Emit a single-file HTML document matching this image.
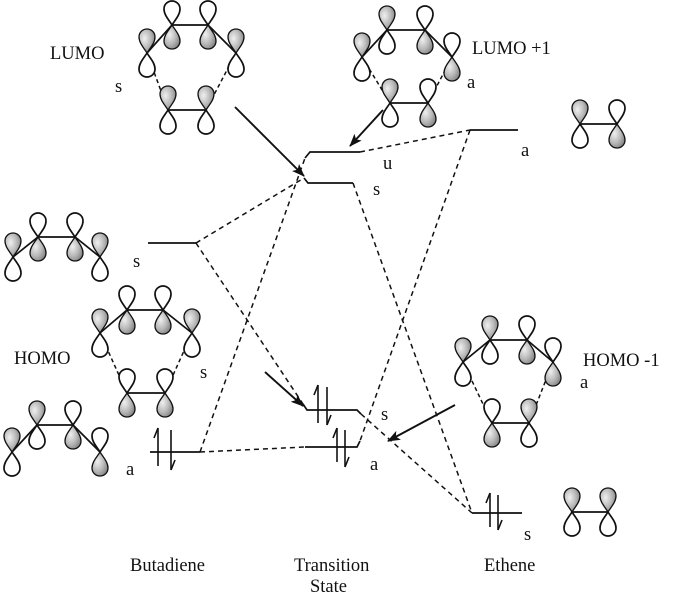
<!DOCTYPE html>
<html><head><meta charset="utf-8"><style>
html,body{margin:0;padding:0;background:#fff;}
svg{display:block;}
text{font-family:"Liberation Serif",serif;fill:#111;}
</style></head><body>
<svg width="681" height="599" viewBox="0 0 681 599" xmlns="http://www.w3.org/2000/svg">
<defs>
<radialGradient id="g" cx="0.35" cy="0.4" r="0.8">
<stop offset="0" stop-color="#f0f0f0"/><stop offset="0.5" stop-color="#b8b8b8"/><stop offset="1" stop-color="#707070"/>
</radialGradient>
<path id="us" d="M0,0 C-3,-5 -8,-10 -8,-16 C-8,-21 -4,-24 0,-24 C4,-24 8,-21 8,-16 C8,-10 3,-5 0,0Z" fill="url(#g)" stroke="#111" stroke-width="1.3"/>
<path id="uh" d="M0,0 C-3,-5 -8,-10 -8,-16 C-8,-21 -4,-24 0,-24 C4,-24 8,-21 8,-16 C8,-10 3,-5 0,0Z" fill="#fff" stroke="#111" stroke-width="1.7"/>
<path id="ds" d="M0,0 C-3,5 -8,10 -8,16 C-8,21 -4,24 0,24 C4,24 8,21 8,16 C8,10 3,5 0,0Z" fill="url(#g)" stroke="#111" stroke-width="1.3"/>
<path id="dh" d="M0,0 C-3,5 -8,10 -8,16 C-8,21 -4,24 0,24 C4,24 8,21 8,16 C8,10 3,5 0,0Z" fill="#fff" stroke="#111" stroke-width="1.7"/>
<marker id="ar" markerWidth="13" markerHeight="10" refX="12" refY="5" orient="auto" markerUnits="userSpaceOnUse">
<path d="M0,0 L13,5 L0,10 L3,5Z" fill="#111"/></marker>
</defs>

<g stroke="#111" stroke-width="1.7" fill="none">
<polyline points="147,53 172,25 208,25 236,53"/><line x1="168" y1="110" x2="206" y2="110"/>
<polyline points="362,57 387,30 425,30 452,57"/><line x1="390" y1="103" x2="428" y2="103"/>
<line x1="580" y1="124" x2="617" y2="124"/>
<polyline points="13,257 38,237 75,237 100,257"/>
<polyline points="100,333 127,310 163,310 192,333"/><line x1="127" y1="393" x2="165" y2="393"/>
<polyline points="12,452 37,425 73,425 100,452"/>
<polyline points="463,362 490,340 527,340 553,362"/><line x1="492" y1="423" x2="529" y2="423"/>
<line x1="572" y1="512" x2="608" y2="512"/>
</g>
<g stroke="#111" stroke-width="1.5" stroke-dasharray="4,3" fill="none">
<line x1="147" y1="53" x2="168" y2="110"/><line x1="236" y1="53" x2="206" y2="110"/>
<line x1="362" y1="57" x2="390" y2="103"/><line x1="452" y1="57" x2="428" y2="103"/>
<line x1="100" y1="333" x2="127" y2="393"/><line x1="192" y1="333" x2="165" y2="393"/>
<line x1="463" y1="362" x2="492" y2="423"/><line x1="553" y1="362" x2="529" y2="423"/>
</g>

<use href="#us" x="147" y="53"/><use href="#dh" x="147" y="53"/>
<use href="#uh" x="172" y="25"/><use href="#ds" x="172" y="25"/>
<use href="#uh" x="208" y="25"/><use href="#ds" x="208" y="25"/>
<use href="#us" x="236" y="53"/><use href="#dh" x="236" y="53"/>
<use href="#us" x="168" y="110"/><use href="#dh" x="168" y="110"/>
<use href="#us" x="206" y="110"/><use href="#dh" x="206" y="110"/>

<use href="#us" x="362" y="57"/><use href="#dh" x="362" y="57"/>
<use href="#us" x="387" y="30"/><use href="#dh" x="387" y="30"/>
<use href="#uh" x="425" y="30"/><use href="#ds" x="425" y="30"/>
<use href="#uh" x="452" y="57"/><use href="#ds" x="452" y="57"/>
<use href="#us" x="390" y="103"/><use href="#dh" x="390" y="103"/>
<use href="#uh" x="428" y="103"/><use href="#ds" x="428" y="103"/>

<use href="#us" x="580" y="124"/><use href="#dh" x="580" y="124"/>
<use href="#uh" x="617" y="124"/><use href="#ds" x="617" y="124"/>

<use href="#us" x="13" y="257"/><use href="#dh" x="13" y="257"/>
<use href="#uh" x="38" y="237"/><use href="#ds" x="38" y="237"/>
<use href="#uh" x="75" y="237"/><use href="#ds" x="75" y="237"/>
<use href="#us" x="100" y="257"/><use href="#dh" x="100" y="257"/>

<use href="#us" x="100" y="333"/><use href="#dh" x="100" y="333"/>
<use href="#uh" x="127" y="310"/><use href="#ds" x="127" y="310"/>
<use href="#uh" x="163" y="310"/><use href="#ds" x="163" y="310"/>
<use href="#us" x="192" y="333"/><use href="#dh" x="192" y="333"/>
<use href="#uh" x="127" y="393"/><use href="#ds" x="127" y="393"/>
<use href="#uh" x="165" y="393"/><use href="#ds" x="165" y="393"/>

<use href="#us" x="12" y="452"/><use href="#dh" x="12" y="452"/>
<use href="#us" x="37" y="425"/><use href="#dh" x="37" y="425"/>
<use href="#uh" x="73" y="425"/><use href="#ds" x="73" y="425"/>
<use href="#uh" x="100" y="452"/><use href="#ds" x="100" y="452"/>

<use href="#us" x="463" y="362"/><use href="#dh" x="463" y="362"/>
<use href="#us" x="490" y="340"/><use href="#dh" x="490" y="340"/>
<use href="#uh" x="527" y="340"/><use href="#ds" x="527" y="340"/>
<use href="#uh" x="553" y="362"/><use href="#ds" x="553" y="362"/>
<use href="#uh" x="492" y="423"/><use href="#ds" x="492" y="423"/>
<use href="#us" x="529" y="423"/><use href="#dh" x="529" y="423"/>

<use href="#us" x="572" y="512"/><use href="#dh" x="572" y="512"/>
<use href="#us" x="608" y="512"/><use href="#dh" x="608" y="512"/>

<g stroke="#111" stroke-width="1.7" fill="none">
<polyline points="305,158 310,152 360,152"/>
<polyline points="304,178 308,183 353,183"/>
<line x1="470" y1="130" x2="518" y2="130"/>
<line x1="148" y1="243" x2="196" y2="243"/>
<polyline points="303,404 307,410 357,410 361,414"/>
<polyline points="305,447 357,447 360,441"/>
<line x1="150" y1="452" x2="200" y2="452"/>
<line x1="472" y1="513" x2="522" y2="513"/>
</g>
<g stroke="#111" stroke-width="1.5" stroke-dasharray="5,4" fill="none">
<line x1="196" y1="243" x2="304" y2="178"/>
<line x1="196" y1="243" x2="303" y2="404"/>
<line x1="200" y1="452" x2="305" y2="158"/>
<line x1="200" y1="452" x2="305" y2="447"/>
<line x1="360" y1="152" x2="470" y2="130"/>
<line x1="470" y1="130" x2="360" y2="441"/>
<line x1="353" y1="183" x2="472" y2="513"/>
<line x1="361" y1="414" x2="472" y2="513"/>
</g>
<g stroke="#111" stroke-width="1.9" fill="none" marker-end="url(#ar)">
<line x1="235" y1="107" x2="304" y2="176"/>
<line x1="383" y1="110" x2="350" y2="146"/>
<line x1="265" y1="372" x2="303" y2="406"/>
<line x1="455" y1="405" x2="388" y2="441"/>
</g>
<g stroke="#111" stroke-width="1.6" fill="none">
<line x1="158" y1="466" x2="158" y2="428"/><polyline points="154,438 158,428"/>
<line x1="171" y1="430" x2="171" y2="470"/><polyline points="175,460 171,470"/>
<line x1="318" y1="423" x2="318" y2="385"/><polyline points="314,395 318,385"/>
<line x1="327" y1="387" x2="327" y2="425"/><polyline points="331,415 327,425"/>
<line x1="337" y1="462" x2="337" y2="428"/><polyline points="333,438 337,428"/>
<line x1="345" y1="430" x2="345" y2="467"/><polyline points="349,457 345,467"/>
<line x1="490" y1="527" x2="490" y2="493"/><polyline points="486,503 490,493"/>
<line x1="498" y1="495" x2="498" y2="530"/><polyline points="502,520 498,530"/>
</g>

<g font-size="18.5">
<text x="50" y="59">LUMO</text>
<text x="115" y="92">s</text>
<text x="472" y="54">LUMO +1</text>
<text x="467" y="88">a</text>
<text x="383" y="169">u</text>
<text x="373" y="195">s</text>
<text x="521" y="156">a</text>
<text x="133" y="267">s</text>
<text x="14" y="364">HOMO</text>
<text x="200" y="378">s</text>
<text x="126" y="475">a</text>
<text x="381" y="420">s</text>
<text x="370" y="470">a</text>
<text x="583" y="366">HOMO -1</text>
<text x="580" y="388">a</text>
<text x="524" y="540">s</text>
<text x="130" y="571">Butadiene</text>
<text x="294" y="571">Transition</text>
<text x="310" y="592">State</text>
<text x="484" y="571">Ethene</text>
</g>
</svg>
</body></html>
